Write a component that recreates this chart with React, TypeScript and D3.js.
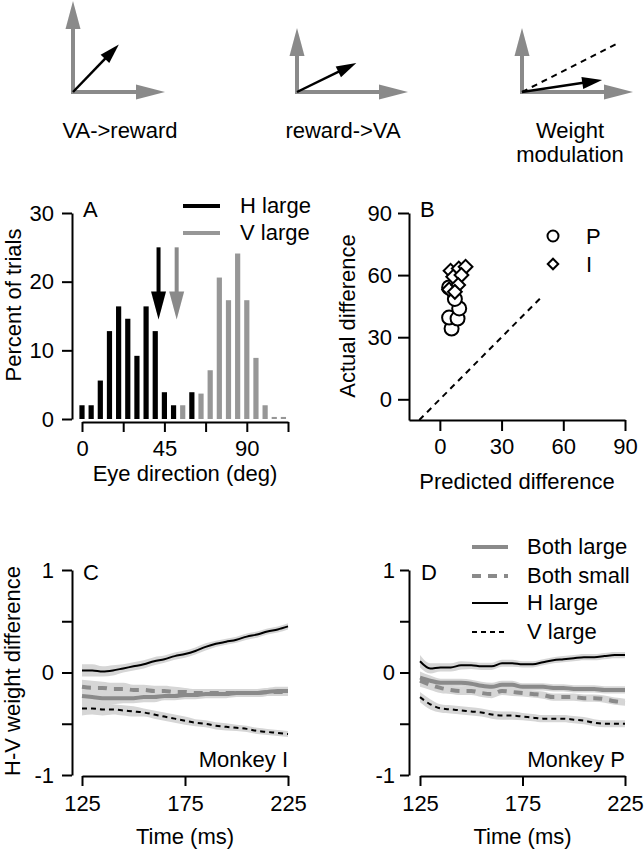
import React, { useEffect, useRef } from "react";
import * as d3 from "d3";

const FONT = "'Liberation Sans', Arial, Helvetica, sans-serif";

// schematic panels (top row)
const schemeLabels = [["VA->reward"], ["reward->VA"], ["Weight", "modulation"]];
const schemeAngles = [46, 26, 8.5];

// panel A: eye direction histograms (5 deg bins)
const binCenters = [0, 5, 10, 15, 20, 25, 30, 35, 40, 45, 50, 55, 60, 65, 70, 75, 80, 85, 90, 95, 100, 105, 110];
const hLargePct = [2, 2, 5.6, 12.8, 16.4, 14.6, 9.2, 16.4, 12.8, 3.9, 2, 0, 3.9, 0, 0, 0, 0, 0, 0, 0, 0, 0, 0];
const vLargePct = [0, 0, 0, 0, 0, 0, 0, 0, 0, 0, 0, 2, 0, 3.7, 7.1, 20.6, 17.3, 24.1, 17.3, 8.9, 2, 0.3, 0.3];
const meanDirs = [41.8, 51.7];
const histLegend = ["H large", "V large"];
const xTicksA = [0, 22.5, 45, 67.5, 90, 112.5];

// panel B: predicted vs actual difference
const predP = [5.7, 4.5, 8.6, 9.4, 7.3, 4.5];
const actualP = [34.2, 39.5, 39.0, 43.9, 48.5, 54.0];
const predI = [5.2, 9.2, 12.5, 6.5, 10.5, 4.5, 8.9, 7.3];
const actualI = [62.1, 63.2, 64.0, 59.2, 60.0, 53.1, 55.2, 51.9];
const identityRange = [-10, 50];

// panels C, D: H-V weight difference over time
const times = [125, 130, 135, 140, 145, 150, 155, 160, 165, 170, 175, 180, 185, 190, 195, 200, 205, 210, 215, 220, 225];
const seriesNames = ["Both large", "Both small", "H large", "V large"];

const cBothLarge = [-0.23, -0.24, -0.25, -0.25, -0.25, -0.25, -0.24, -0.24, -0.23, -0.23, -0.22, -0.22, -0.21, -0.21, -0.21, -0.2, -0.2, -0.2, -0.19, -0.18, -0.18];
const cBothSmall = [-0.14, -0.15, -0.15, -0.16, -0.16, -0.17, -0.17, -0.18, -0.18, -0.19, -0.19, -0.2, -0.2, -0.2, -0.2, -0.2, -0.2, -0.2, -0.19, -0.19, -0.19];
const cHLarge = [0.02, 0.02, 0.01, 0.02, 0.04, 0.06, 0.08, 0.11, 0.13, 0.16, 0.18, 0.21, 0.25, 0.28, 0.3, 0.32, 0.35, 0.37, 0.4, 0.42, 0.45];
const cVLarge = [-0.35, -0.35, -0.36, -0.36, -0.37, -0.38, -0.39, -0.41, -0.43, -0.45, -0.47, -0.49, -0.5, -0.52, -0.53, -0.54, -0.55, -0.57, -0.58, -0.59, -0.6];
const cBothLargeErr = [0.07, 0.07, 0.06, 0.06, 0.05, 0.05, 0.05, 0.05, 0.04, 0.04, 0.04, 0.04, 0.04, 0.04, 0.04, 0.04, 0.04, 0.04, 0.04, 0.04, 0.04];
const cBothSmallErr = [0.07, 0.07, 0.06, 0.06, 0.06, 0.05, 0.05, 0.05, 0.05, 0.05, 0.04, 0.04, 0.04, 0.04, 0.04, 0.04, 0.04, 0.04, 0.04, 0.04, 0.04];
const cHLargeErr = [0.06, 0.06, 0.05, 0.05, 0.04, 0.04, 0.04, 0.04, 0.035, 0.035, 0.035, 0.035, 0.035, 0.03, 0.03, 0.03, 0.03, 0.03, 0.03, 0.03, 0.03];
const cVLargeErr = [0.07, 0.06, 0.06, 0.05, 0.05, 0.05, 0.04, 0.04, 0.04, 0.04, 0.04, 0.035, 0.035, 0.035, 0.035, 0.03, 0.03, 0.03, 0.03, 0.03, 0.03];

const dBothLarge = [-0.05, -0.08, -0.1, -0.1, -0.1, -0.11, -0.13, -0.14, -0.12, -0.12, -0.14, -0.14, -0.14, -0.15, -0.15, -0.16, -0.16, -0.16, -0.17, -0.17, -0.17];
const dBothSmall = [-0.08, -0.12, -0.15, -0.17, -0.18, -0.18, -0.2, -0.21, -0.18, -0.19, -0.2, -0.21, -0.22, -0.24, -0.24, -0.24, -0.25, -0.25, -0.26, -0.28, -0.29];
const dHLarge = [0.11, 0.04, 0.05, 0.05, 0.07, 0.07, 0.06, 0.06, 0.09, 0.09, 0.08, 0.08, 0.1, 0.12, 0.13, 0.14, 0.15, 0.15, 0.16, 0.17, 0.17];
const dVLarge = [-0.24, -0.31, -0.35, -0.36, -0.37, -0.38, -0.39, -0.41, -0.42, -0.42, -0.43, -0.44, -0.45, -0.45, -0.45, -0.46, -0.47, -0.49, -0.5, -0.5, -0.5];
const dBothLargeErr = [0.06, 0.05, 0.04, 0.04, 0.04, 0.04, 0.04, 0.04, 0.04, 0.04, 0.035, 0.035, 0.035, 0.035, 0.035, 0.035, 0.035, 0.035, 0.035, 0.035, 0.035];
const dBothSmallErr = [0.06, 0.05, 0.05, 0.04, 0.04, 0.04, 0.04, 0.04, 0.04, 0.04, 0.035, 0.035, 0.035, 0.035, 0.035, 0.035, 0.035, 0.035, 0.035, 0.035, 0.035];
const dHLargeErr = [0.06, 0.05, 0.04, 0.04, 0.04, 0.035, 0.035, 0.035, 0.035, 0.035, 0.03, 0.03, 0.03, 0.03, 0.03, 0.03, 0.03, 0.03, 0.03, 0.03, 0.03];
const dVLargeErr = [0.05, 0.05, 0.04, 0.04, 0.04, 0.04, 0.04, 0.04, 0.04, 0.04, 0.035, 0.035, 0.035, 0.035, 0.035, 0.035, 0.035, 0.035, 0.035, 0.035, 0.035];

const GRAY = "#8a8a8a";
const BAR_GRAY = "#979797";
const BAND = "#d6d6d6";

// stroke style per series: Both large, Both small, H large, V large
const seriesStyle = [
  { color: GRAY, width: 4, dash: null },
  { color: GRAY, width: 4, dash: "9,7" },
  { color: "#000", width: 2, dash: null },
  { color: "#000", width: 2, dash: "5,4" },
];

function arrow(g, x1, y1, x2, y2, color, width, headLen, headW) {
  const dx = x2 - x1;
  const dy = y2 - y1;
  const len = Math.sqrt(dx * dx + dy * dy);
  const ux = dx / len;
  const uy = dy / len;
  const bx = x2 - ux * headLen;
  const by = y2 - uy * headLen;
  g.append("line")
    .attr("x1", x1)
    .attr("y1", y1)
    .attr("x2", bx + ux)
    .attr("y2", by + uy)
    .attr("stroke", color)
    .attr("stroke-width", width);
  g.append("path")
    .attr(
      "d",
      `M${x2},${y2}L${bx - uy * headW / 2},${by + ux * headW / 2}L${bx + uy * headW / 2},${by - ux * headW / 2}Z`
    )
    .attr("fill", color);
}

function styleAxis(a) {
  a.attr("font-size", 22).attr("font-family", FONT);
  a.selectAll("path,line").attr("stroke", "#000").attr("stroke-width", 2);
  a.selectAll("text").attr("fill", "#000");
}

function label(svg, x, y, txt, anchor = "start", rotate = false) {
  const t = svg
    .append("text")
    .attr("font-family", FONT)
    .attr("font-size", 22)
    .attr("text-anchor", anchor)
    .text(txt);
  if (rotate) t.attr("transform", `translate(${x},${y}) rotate(-90)`);
  else t.attr("x", x).attr("y", y);
  return t;
}

export default function App() {
  const ref = useRef(null);

  useEffect(() => {
    const svg = d3.select(ref.current);
    svg.selectAll("*").remove();

    // ---- schematics
    const origins = [[73, 92], [297, 92], [522, 92]];
    const vertLen = [91, 64, 64];
    const horLen = [92, 111, 111];
    const vecLen = [66, 66, 81];
    origins.forEach((o, i) => {
      const g = svg.append("g");
      arrow(g, o[0], o[1] + 2, o[0], o[1] - vertLen[i], GRAY, 4, 28, 15);
      arrow(g, o[0] - 2, o[1], o[0] + horLen[i], o[1], GRAY, 4, 29, 15);
      if (i === 2) {
        const a = (27 * Math.PI) / 180;
        g.append("line")
          .attr("x1", o[0])
          .attr("y1", o[1])
          .attr("x2", o[0] + 107 * Math.cos(a))
          .attr("y2", o[1] - 107 * Math.sin(a))
          .attr("stroke", "#000")
          .attr("stroke-width", 2)
          .attr("stroke-dasharray", "6,5");
      }
      const ang = (schemeAngles[i] * Math.PI) / 180;
      arrow(g, o[0], o[1], o[0] + vecLen[i] * Math.cos(ang), o[1] - vecLen[i] * Math.sin(ang), "#000", 2.5, 20, 12);
    });
    const labelX = [120, 343, 570];
    schemeLabels.forEach((lines, i) => {
      lines.forEach((ln, j) => label(svg, labelX[i], 138 + j * 24, ln, "middle"));
    });

    // ---- panel A
    const xA = d3.scaleLinear().domain([0, 112.5]).range([82, 288]);
    const yA = d3.scaleLinear().domain([0, 30]).range([419, 213]);
    const bars = [
      { vals: hLargePct, color: "#000" },
      { vals: vLargePct, color: BAR_GRAY },
    ];
    bars.forEach((b) => {
      svg
        .append("g")
        .selectAll("rect")
        .data(binCenters.map((c, i) => ({ c, v: b.vals[i] })).filter((d) => d.v > 0))
        .enter()
        .append("rect")
        .attr("x", (d) => xA(d.c) - 2.6)
        .attr("width", 5.2)
        .attr("y", (d) => yA(d.v))
        .attr("height", (d) => yA(0) - yA(d.v))
        .attr("fill", b.color);
    });
    meanDirs.forEach((m, i) => {
      arrow(svg, xA(m), yA(25), xA(m), yA(14.5), i === 0 ? "#000" : GRAY, 4, 28, 15);
    });
    styleAxis(
      svg
        .append("g")
        .attr("transform", "translate(72,0)")
        .call(d3.axisLeft(yA).tickValues([0, 10, 20, 30]).tickSize(10).tickPadding(8).tickSizeOuter(0))
    );
    styleAxis(
      svg
        .append("g")
        .attr("transform", "translate(0,422)")
        .call(
          d3
            .axisBottom(xA)
            .tickValues(xTicksA)
            .tickFormat((d) => (d % 45 === 0 ? String(d) : ""))
            .tickSize(10)
            .tickPadding(8)
            .tickSizeOuter(0)
        )
    );
    histLegend.forEach((name, i) => {
      const y = 206 + i * 27;
      svg
        .append("line")
        .attr("x1", 183)
        .attr("x2", 220)
        .attr("y1", y)
        .attr("y2", y)
        .attr("stroke", i === 0 ? "#000" : BAR_GRAY)
        .attr("stroke-width", 4);
      label(svg, 240, y + 7, name);
    });
    label(svg, 83, 217, "A");
    label(svg, 21, 305, "Percent of trials", "middle", true);
    label(svg, 185, 481, "Eye direction (deg)", "middle");

    // ---- panel B
    const xB = d3.scaleLinear().domain([-15, 90]).range([409, 625]);
    const yB = d3.scaleLinear().domain([-10, 90]).range([420, 213]);
    styleAxis(
      svg
        .append("g")
        .attr("transform", "translate(409,0)")
        .call(d3.axisLeft(yB).tickValues([0, 30, 60, 90]).tickSize(11).tickPadding(6).tickSizeOuter(0))
    );
    styleAxis(
      svg
        .append("g")
        .attr("transform", "translate(0,420)")
        .call(d3.axisBottom(xB).tickValues([0, 30, 60, 90]).tickSize(11).tickPadding(7).tickSizeOuter(0))
    );
    svg
      .append("line")
      .attr("x1", xB(identityRange[0]))
      .attr("y1", yB(identityRange[0]))
      .attr("x2", xB(identityRange[1]))
      .attr("y2", yB(identityRange[1]))
      .attr("stroke", "#000")
      .attr("stroke-width", 2)
      .attr("stroke-dasharray", "6,5");
    svg
      .append("g")
      .selectAll("circle")
      .data(predP.map((p, i) => [p, actualP[i]]))
      .enter()
      .append("circle")
      .attr("cx", (d) => xB(d[0]))
      .attr("cy", (d) => yB(d[1]))
      .attr("r", 7)
      .attr("fill", "#fff")
      .attr("stroke", "#000")
      .attr("stroke-width", 2);
    const diamond = d3.symbol(d3.symbolSquare, 95);
    svg
      .append("g")
      .selectAll("path")
      .data(predI.map((p, i) => [p, actualI[i]]))
      .enter()
      .append("path")
      .attr("d", diamond)
      .attr("transform", (d) => `translate(${xB(d[0])},${yB(d[1])}) rotate(45)`)
      .attr("fill", "#fff")
      .attr("stroke", "#000")
      .attr("stroke-width", 2);
    svg
      .append("circle")
      .attr("cx", 553)
      .attr("cy", 236)
      .attr("r", 5.5)
      .attr("fill", "#fff")
      .attr("stroke", "#000")
      .attr("stroke-width", 2);
    svg
      .append("path")
      .attr("d", d3.symbol(d3.symbolSquare, 55)())
      .attr("transform", "translate(553,264) rotate(45)")
      .attr("fill", "#fff")
      .attr("stroke", "#000")
      .attr("stroke-width", 2);
    label(svg, 586, 244, "P");
    label(svg, 586, 272, "I");
    label(svg, 420, 217, "B");
    label(svg, 355, 316, "Actual difference", "middle", true);
    label(svg, 517, 489, "Predicted difference", "middle");

    // ---- panels C, D
    const panels = [
      { x0: 82, x1: 288, ax: 72, vals: [cBothLarge, cBothSmall, cHLarge, cVLarge], errs: [cBothLargeErr, cBothSmallErr, cHLargeErr, cVLargeErr], letter: "C", monkey: "Monkey I" },
      { x0: 420, x1: 625, ax: 409, vals: [dBothLarge, dBothSmall, dHLarge, dVLarge], errs: [dBothLargeErr, dBothSmallErr, dHLargeErr, dVLargeErr], letter: "D", monkey: "Monkey P" },
    ];
    panels.forEach((p, pi) => {
      const x = d3.scaleLinear().domain([125, 225]).range([p.x0, p.x1]);
      const y = d3.scaleLinear().domain([-1, 1]).range([775, 570]);
      const area = d3
        .area()
        .x((d) => x(d[0]))
        .y0((d) => y(d[1] - d[2]))
        .y1((d) => y(d[1] + d[2]))
        .curve(d3.curveMonotoneX);
      const line = d3
        .line()
        .x((d) => x(d[0]))
        .y((d) => y(d[1]))
        .curve(d3.curveMonotoneX);
      const rows = p.vals.map((v, si) => times.map((t, i) => [t, v[i], p.errs[si][i]]));
      rows.forEach((r) => {
        svg.append("path").attr("d", area(r)).attr("fill", BAND);
      });
      rows.forEach((r, si) => {
        const st = seriesStyle[si];
        const path = svg
          .append("path")
          .attr("d", line(r))
          .attr("fill", "none")
          .attr("stroke", st.color)
          .attr("stroke-width", st.width);
        if (st.dash) path.attr("stroke-dasharray", st.dash);
      });
      styleAxis(
        svg
          .append("g")
          .attr("transform", `translate(${p.ax},0)`)
          .call(
            d3
              .axisLeft(y)
              .tickValues([-1, -0.5, 0, 0.5, 1])
              .tickFormat((d) => (Number.isInteger(d) ? String(d) : ""))
              .tickSize(pi === 0 ? 10 : 9)
              .tickPadding(pi === 0 ? 8 : 5)
              .tickSizeOuter(0)
          )
      );
      styleAxis(
        svg
          .append("g")
          .attr("transform", "translate(0,776)")
          .call(d3.axisBottom(x).tickValues([125, 175, 225]).tickSize(10).tickPadding(9).tickSizeOuter(0))
      );
      label(svg, p.x0 + 1, 580, p.letter);
      label(svg, p.x1, 767, p.monkey, "end");
      label(svg, (p.x0 + p.x1) / 2, 844, "Time (ms)", "middle");
    });
    label(svg, 20, 671, "H-V weight difference", "middle", true);

    seriesNames.forEach((name, i) => {
      const yy = [547, 576, 603, 632][i];
      const st = seriesStyle[i];
      const l = svg
        .append("line")
        .attr("x1", 472)
        .attr("x2", 508)
        .attr("y1", yy)
        .attr("y2", yy)
        .attr("stroke", st.color)
        .attr("stroke-width", st.width);
      if (st.dash) l.attr("stroke-dasharray", st.dash);
      label(svg, 527, yy + 7, name);
    });
  }, []);

  return (
    <svg
      ref={ref}
      width={644}
      height={852}
      style={{ position: "absolute", left: 0, top: 0, background: "#fff" }}
    />
  );
}
